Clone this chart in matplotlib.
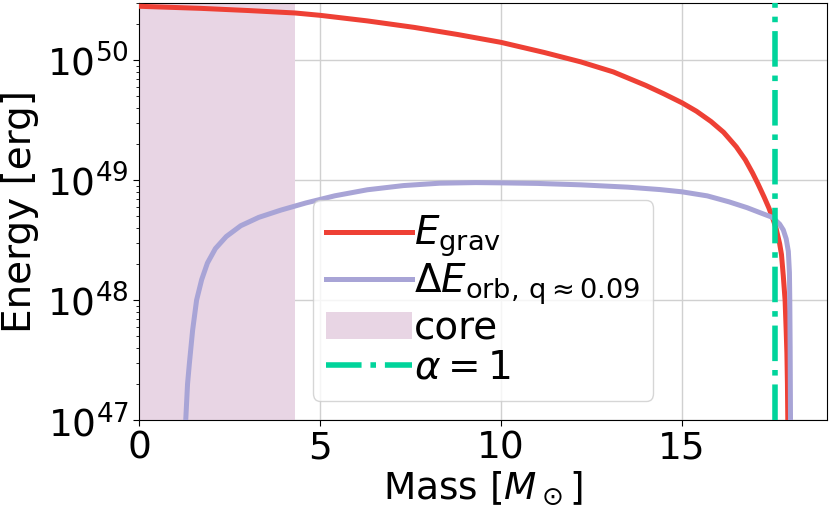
import matplotlib
matplotlib.use("Agg")
import matplotlib.pyplot as plt
from matplotlib.ticker import FixedLocator, LogLocator

# ---- data ----
m_grav = [0.0, 1.7, 3.0, 4.3, 5.0, 6.3, 7.6, 8.8, 10.0, 11.2, 12.2, 13.1, 14.0,
          14.5, 15.0, 15.4, 15.8, 16.15, 16.5, 16.75, 16.95, 17.1, 17.27, 17.4,
          17.5, 17.6, 17.7, 17.75, 17.8, 17.85, 17.88, 17.9, 17.915, 17.925]
e_grav = [2.82e50, 2.71e50, 2.6e50, 2.48e50, 2.37e50, 2.13e50, 1.88e50, 1.64e50,
          1.41e50, 1.16e50, 9.7e49, 8.0e49, 6.17e49,
          5.25e49, 4.42e49, 3.76e49, 3.09e49, 2.51e49, 1.9e49, 1.48e49, 1.15e49,
          9.33e48, 7.24e48, 5.89e48, 4.9e48, 3.98e48, 2.95e48, 2.4e48, 1.6e48,
          1.0e48, 5.6e47, 3.6e47, 2.0e47, 1.0e47]

m_orb = [1.28, 1.33, 1.38, 1.47, 1.58, 1.72, 1.88, 2.1, 2.4, 2.8, 3.3, 3.9, 4.6,
         5.4, 6.3, 7.3, 8.3, 9.3, 10.0, 11.0, 12.2, 13.5, 14.4, 15.0, 15.7, 16.3,
         16.8, 17.2, 17.5, 17.7, 17.8, 17.88, 17.94, 17.97, 17.98, 17.99, 18.0]
e_orb = [1.0e47, 2.0e47, 2.95e47, 5.6e47, 1.0e48, 1.48e48, 2.04e48, 2.69e48, 3.39e48,
         4.17e48, 4.9e48, 5.62e48, 6.46e48, 7.41e48, 8.32e48, 9.02e48, 9.44e48, 9.55e48,
         9.5e48, 9.4e48, 9.15e48, 8.75e48, 8.35e48, 8.0e48, 7.4e48, 6.6e48, 5.9e48,
         5.3e48, 4.9e48, 4.3e48, 3.85e48, 3.25e48, 2.55e48, 1.7e48, 1.0e48, 4.0e47, 1.0e47]

core_mass = 4.3
alpha_mass = 17.57
x_ticks = [0, 5, 10, 15]

labels = [r'$E_{\rm grav}$', r'$\Delta E_{\rm orb,\, q\approx0.09}$', 'core', r'$\alpha = 1$']

# ---- figure ----
fig = plt.figure(figsize=(8.3, 5.11), dpi=100)
ax = fig.add_axes([0.168, 0.178, 0.828, 0.816])

ax.axvspan(0, core_mass, color='#e8d5e4', lw=0, label=labels[2], zorder=1)
ax.plot(m_grav, e_grav, color='#ee4035', lw=3.6, label=labels[0], zorder=3)
ax.plot(m_orb, e_orb, color='#a8a4d6', lw=3.6, label=labels[1], zorder=3)
ax.axvline(alpha_mass, color='#00d49b', lw=4, ls='-.', label=labels[3], zorder=4)

ax.set_yscale('log')
ax.set_xlim(0, 19.0)
ax.set_ylim(1e47, 3e50)
ax.xaxis.set_major_locator(FixedLocator(x_ticks))
ax.yaxis.set_minor_locator(LogLocator(base=10, subs=range(2, 10), numticks=20))
ax.grid(True, which='major', color='#d0d0d0', lw=1, zorder=0)
ax.set_axisbelow(True)

ax.tick_params(axis='both', which='major', labelsize=27, length=4)
ax.tick_params(axis='both', which='minor', length=2.5)
ax.set_xlabel(r'Mass [$M_\odot$]', fontsize=27, labelpad=2)
ax.set_ylabel('Energy [erg]', fontsize=28, labelpad=6)

h, l = ax.get_legend_handles_labels()
order = [l.index(x) for x in labels]
ax.legend([h[i] for i in order], [l[i] for i in order], loc='lower center',
          fontsize=28, handlelength=2.2, handletextpad=0.05, labelspacing=0.05,
          borderpad=0.35, framealpha=0.8)

fig.savefig('out.png', dpi=100)
